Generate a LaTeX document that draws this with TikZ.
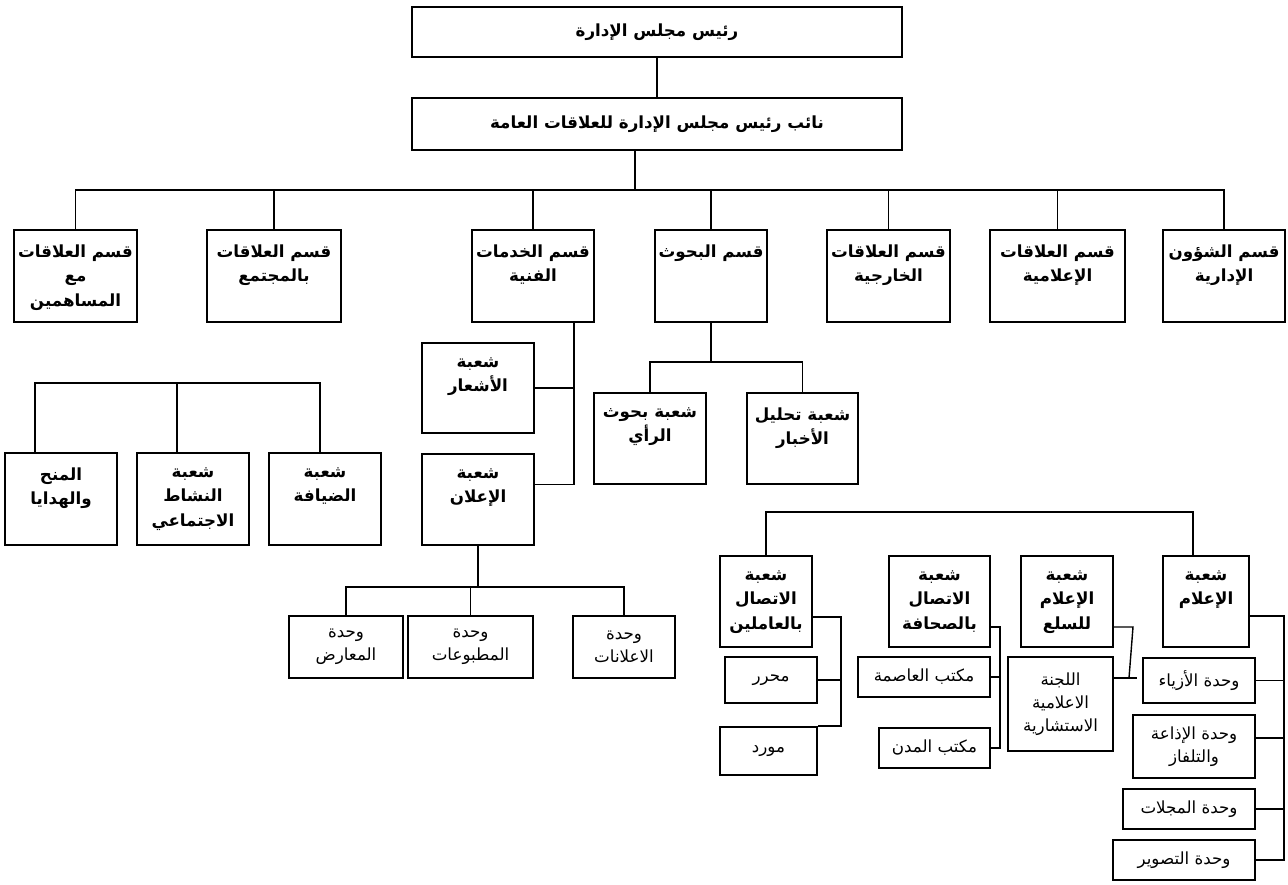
\documentclass[tikz,border=0pt]{standalone}
\usepackage{fontspec}
\newfontfamily\arabicfont[Script=Arabic]{DejaVu Sans}
\TeXXeTstate=1
\usetikzlibrary{positioning}

\begin{document}
\begin{tikzpicture}[
    x=0.02cm, y=-0.02cm,
    line width=0.8pt,
    orgbox/.style 2 args={draw, line width=1.1pt, minimum width=#1*0.02cm, minimum height=#2*0.02cm, inner sep=1pt, align=center},
    headfont/.style={font=\arabicfont\bfseries\fontsize{9.5}{14}\selectfont},
    unitfont/.style={font=\arabicfont\fontsize{9.5}{13}\selectfont},
    toptext/.style={label={[anchor=north, yshift=-5pt, align=center, headfont]north:{#1}}}
]
\useasboundingbox (0,0) rectangle (1288,885);

% Top of the chart
\node[orgbox={490}{50}, headfont] (chair) at (657,32) {\beginR رئيس مجلس الإدارة\endR};
\node[orgbox={490}{52}, headfont] (vice) at (657,124) {\beginR نائب رئيس مجلس الإدارة للعلاقات العامة\endR};

% Departments
\node[orgbox={123}{92}, toptext={\beginR قسم العلاقات\endR\\\beginR مع\endR\\\beginR المساهمين\endR}] (d1) at (75.5,276) {};
\node[orgbox={134}{92}, toptext={\beginR قسم العلاقات\endR\\\beginR بالمجتمع\endR}] (d2) at (274,276) {};
\node[orgbox={122}{92}, toptext={\beginR قسم الخدمات\endR\\\beginR الفنية\endR}] (d3) at (533,276) {};
\node[orgbox={112}{92}, toptext={\beginR قسم البحوث\endR}] (d4) at (711,276) {};
\node[orgbox={123}{92}, toptext={\beginR قسم العلاقات\endR\\\beginR الخارجية\endR}] (d5) at (888.5,276) {};
\node[orgbox={135}{92}, toptext={\beginR قسم العلاقات\endR\\\beginR الإعلامية\endR}] (d6) at (1057.5,276) {};
\node[orgbox={122}{92}, toptext={\beginR قسم الشؤون\endR\\\beginR الإدارية\endR}] (d7) at (1224,276) {};

% Sections
\node[orgbox={112}{90}, toptext={\beginR شعبة\endR\\\beginR الأشعار\endR}] (ashar) at (478,388) {};
\node[orgbox={112}{91}, toptext={\beginR شعبة\endR\\\beginR الإعلان\endR}] (ilan) at (478,499.5) {};
\node[orgbox={112}{91}, toptext={\beginR شعبة بحوث\endR\\\beginR الرأي\endR}] (ray) at (650,438.5) {};
\node[orgbox={111}{91}, toptext={\beginR شعبة تحليل\endR\\\beginR الأخبار\endR}] (tahlil) at (802.5,438.5) {};
\node[orgbox={112}{92}, toptext={\beginR المنح\endR\\\beginR والهدايا\endR}] (minah) at (61,499) {};
\node[orgbox={112}{92}, toptext={\beginR شعبة\endR\\\beginR النشاط\endR\\\beginR الاجتماعي\endR}] (nashat) at (193,499) {};
\node[orgbox={112}{92}, toptext={\beginR شعبة\endR\\\beginR الضيافة\endR}] (diyafa) at (325,499) {};

% Units of the advertising section
\node[orgbox={114}{62}, unitfont] (maarid) at (346,647) {\beginR وحدة\endR\\\beginR المعارض\endR};
\node[orgbox={125}{62}, unitfont] (matbuat) at (470.5,647) {\beginR وحدة\endR\\\beginR المطبوعات\endR};
\node[orgbox={102}{62}, unitfont] (ilanat) at (624,647) {\beginR وحدة\endR\\\beginR الاعلانات\endR};

% Media and communication sections
\node[orgbox={92}{91}, toptext={\beginR شعبة\endR\\\beginR الاتصال\endR\\\beginR بالعاملين\endR}] (amilin) at (766,601.5) {};
\node[orgbox={101}{91}, toptext={\beginR شعبة\endR\\\beginR الاتصال\endR\\\beginR بالصحافة\endR}] (sihafa) at (939.5,601.5) {};
\node[orgbox={92}{91}, toptext={\beginR شعبة\endR\\\beginR الإعلام\endR\\\beginR للسلع\endR}] (sila) at (1067,601.5) {};
\node[orgbox={86}{91}, toptext={\beginR شعبة\endR\\\beginR الإعلام\endR}] (ilam) at (1206,601.5) {};

\node[orgbox={92}{46}, unitfont] (muharrir) at (771,680) {\beginR محرر\endR};
\node[orgbox={97}{48}, unitfont] (mawrid) at (768.5,751) {\beginR مورد\endR};
\node[orgbox={132}{40}, unitfont] (asima) at (924,677) {\beginR مكتب العاصمة\endR};
\node[orgbox={111}{40}, unitfont] (mudun) at (934.5,748) {\beginR مكتب المدن\endR};
\node[orgbox={105}{94}, unitfont] (lajna) at (1060.5,704) {\beginR اللجنة\endR\\\beginR الاعلامية\endR\\\beginR الاستشارية\endR};
\node[orgbox={112}{45}, unitfont] (azya) at (1199,680.5) {\beginR وحدة الأزياء\endR};
\node[orgbox={122}{63}, unitfont] (idhaa) at (1194,746.5) {\beginR وحدة الإذاعة\endR\\\beginR والتلفاز\endR};
\node[orgbox={132}{40}, unitfont] (majallat) at (1189,809) {\beginR وحدة المجلات\endR};
\node[orgbox={142}{40}, unitfont] (taswir) at (1184,860) {\beginR وحدة التصوير\endR};

% Bus lines
\coordinate (hub) at (635,190);
\coordinate (kx) at (574,0);
\coordinate (bx) at (0,362);
\coordinate (lb) at (0,383);
\coordinate (ub) at (0,587);
\coordinate (rb) at (0,512);
\coordinate (ax) at (841,0);
\coordinate (hx) at (1000,0);
\coordinate (mx) at (1284,0);
\coordinate (s1) at (1133,627);
\coordinate (s2) at (1129,678);
\coordinate (mt) at ([xshift=-0.52cm]minah.north);
\coordinate (nt) at ([xshift=-0.32cm]nashat.north);
\coordinate (dt) at ([xshift=-0.1cm]diyafa.north);
\coordinate (it) at ([xshift=-0.26cm]ilam.north);

\draw (chair) -- (vice);
\draw (vice.south -| hub) -- (hub);
\draw (d1.north) |- (d7.north |- hub) -- (d7.north);
\foreach \n in {d2,d3,d4,d5,d6}
    \draw (\n.north) -- (\n.north |- hub);

% Technical services
\draw (d3.south -| kx) |- ([yshift=0.3cm]ilan.east);
\draw (ashar.east) -- (ashar.east -| kx);

% Research
\draw (d4.south) -- (d4.south |- bx);
\draw (ray.north) |- (tahlil.north |- bx) -- (tahlil.north);

% Left group
\draw (mt) |- (dt |- lb) -- (dt);
\draw (nt) -- (nt |- lb);

% Advertising units
\draw (ilan.south) -- (ilan.south |- ub);
\draw (maarid.north) |- (ilanat.north |- ub) -- (ilanat.north);
\draw (matbuat.north) -- (matbuat.north |- ub);

% Right group
\draw (amilin.north) |- (it |- rb) -- (it);
\draw ([yshift=-0.31cm]amilin.east) -| (ax |- mawrid.north east) -- (mawrid.north east);
\draw (muharrir.east) -- (muharrir.east -| ax);
\draw ([yshift=-0.51cm]sihafa.east) -| (hx |- mudun.east) -- (mudun.east);
\draw (asima.east) -- (asima.east -| hx);
\draw ([yshift=-0.51cm]sila.east) -- (s1) -- (s2);
\draw (lajna.east |- s2) -- ([xshift=0.16cm]s2);
\draw ([yshift=-0.29cm]ilam.east) -| (mx |- taswir.east) -- (taswir.east);
\draw (azya.east) -- (azya.east -| mx);
\draw ([yshift=0.17cm]idhaa.east) -- ([yshift=0.17cm]idhaa.east -| mx);
\draw (majallat.east) -- (majallat.east -| mx);

\end{tikzpicture}
\end{document}
